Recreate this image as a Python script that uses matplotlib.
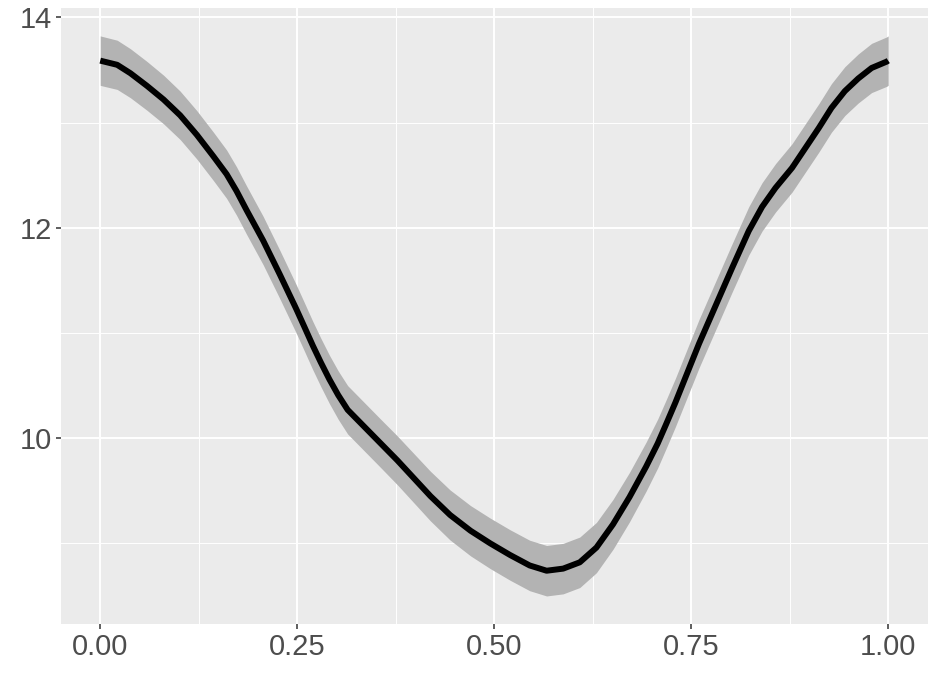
import matplotlib
matplotlib.use("Agg")
import matplotlib.pyplot as plt
import numpy as np

# Data (smoothed curve and its standard band)
x_vals = [0.000, 0.0025, 0.0215, 0.0383, 0.0593, 0.0804, 0.1014, 0.1225, 0.1436, 0.1604,
          0.173, 0.1856, 0.2067, 0.2277, 0.2487, 0.259, 0.2698, 0.280, 0.2908, 0.302,
          0.314, 0.335, 0.356, 0.377, 0.398, 0.419, 0.444, 0.470, 0.495, 0.520,
          0.545, 0.5665, 0.5875, 0.6086, 0.6297, 0.6507, 0.6717, 0.6928, 0.7075, 0.718,
          0.730, 0.745, 0.760, 0.781, 0.802, 0.823, 0.840, 0.857, 0.878, 0.895,
          0.912, 0.928, 0.945, 0.962, 0.979, 0.998, 1.000]
y_vals = [13.59, 13.585, 13.55, 13.47, 13.35, 13.22, 13.07, 12.885, 12.68, 12.51,
          12.35, 12.17, 11.88, 11.56, 11.23, 11.06, 10.88, 10.72, 10.56, 10.41,
          10.27, 10.11, 9.95, 9.79, 9.62, 9.45, 9.27, 9.12, 9.00, 8.89,
          8.79, 8.74, 8.76, 8.82, 8.96, 9.18, 9.44, 9.73, 9.95, 10.13,
          10.34, 10.62, 10.90, 11.26, 11.62, 11.97, 12.20, 12.38, 12.57, 12.76,
          12.95, 13.14, 13.30, 13.42, 13.52, 13.58, 13.59]
se_vals = [0.235, 0.235, 0.234, 0.233, 0.232, 0.231, 0.23, 0.23, 0.23, 0.23,
           0.23, 0.23, 0.23, 0.23, 0.23, 0.23, 0.23, 0.23, 0.23, 0.23,
           0.23, 0.23, 0.23, 0.232, 0.234, 0.236, 0.238, 0.239, 0.24, 0.24,
           0.24, 0.24, 0.24, 0.24, 0.239, 0.237, 0.235, 0.233, 0.232, 0.231,
           0.23, 0.23, 0.23, 0.23, 0.23, 0.23, 0.23, 0.23, 0.23, 0.23,
           0.23, 0.231, 0.232, 0.233, 0.234, 0.235, 0.235]
x_ticks = [0.00, 0.25, 0.50, 0.75, 1.00]
x_labels = ["0.00", "0.25", "0.50", "0.75", "1.00"]
y_ticks = [10, 12, 14]
y_labels = ["10", "12", "14"]

x = np.array(x_vals)
y = np.array(y_vals)
se = np.array(se_vals)

plt.rcParams['font.family'] = ['Liberation Sans', 'DejaVu Sans']

fig = plt.figure(figsize=(9.36, 6.8), dpi=100)
ax = fig.add_axes([0.065, 0.0824, 0.926, 0.906])
ax.set_facecolor("#EBEBEB")

lo = (y - se).min()
hi = (y + se).max()
pad = (hi - lo) * 0.05
ax.set_xlim(-0.05, 1.05)
ax.set_ylim(lo - pad, hi + pad)

ax.set_xticks(x_ticks)
ax.set_xticklabels(x_labels)
ax.set_yticks(y_ticks)
ax.set_yticklabels(y_labels)
ax.set_xticks([0.125, 0.375, 0.625, 0.875], minor=True)
ax.set_yticks([9, 11, 13], minor=True)

ax.grid(which="major", color="white", linewidth=1.4)
ax.grid(which="minor", color="white", linewidth=0.7)
ax.set_axisbelow(True)

for s in ax.spines.values():
    s.set_visible(False)

ax.tick_params(which="major", length=3.5, width=1.1, color="#333333",
               labelsize=21, labelcolor="#4D4D4D", pad=3)
ax.tick_params(which="minor", length=0)

ax.fill_between(x, y - se, y + se, color="#B3B3B3", linewidth=0, zorder=2)
ax.plot(x, y, color="black", linewidth=4.3, solid_capstyle="butt",
        solid_joinstyle="round", zorder=3)

fig.savefig("out.png", dpi=100, facecolor="white")
